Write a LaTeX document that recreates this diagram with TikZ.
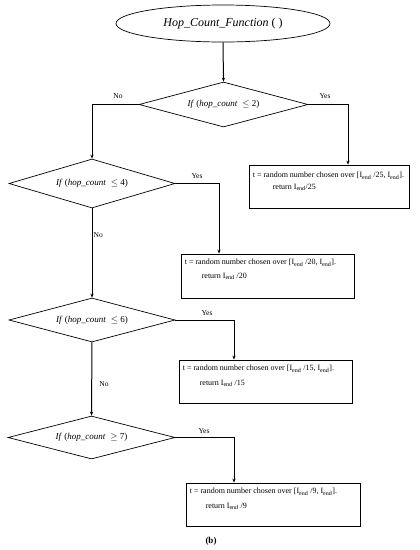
\documentclass[tikz,border=0pt]{standalone}
\usepackage{fontspec}
\setmainfont{Liberation Serif}
\usetikzlibrary{shapes.geometric,arrows.meta,calc}
\begin{document}
\begin{tikzpicture}[x=1pt,y=-1pt,
  startnode/.style={ellipse,draw,line width=0.7pt,minimum width=214pt,minimum height=37pt,inner sep=0pt,font=\fontsize{12}{14}\selectfont},
  decision/.style={diamond,draw,line width=0.7pt,inner sep=0pt,shape aspect=3.7,font=\fontsize{9}{11}\selectfont},
  actionbox/.style={rectangle,draw,line width=0.8pt,inner sep=0pt},
  boxtext/.style={anchor=west,inner sep=0pt,font=\fontsize{8}{10}\selectfont},
  lbl/.style={inner sep=0pt,font=\fontsize{7.5}{9}\selectfont},
  conn/.style={line width=1pt,-{Stealth[length=4pt,width=3.2pt]}}
]
\useasboundingbox (0,0) rectangle (420,550);
\node[startnode] (start) at (223,23.5) {\textit{Hop\_Count\_Function} ( )};
\node[decision,minimum width=169pt,minimum height=45pt] (d1) at (223.5,104.5) {\textit{If} (\textit{hop\_count}\; $\leq$ 2)};
\node[decision,minimum width=166pt,minimum height=49pt] (d2) at (92,183.5) {\textit{If} (\textit{hop\_count}\; $\leq$ 4)};
\node[decision,minimum width=166pt,minimum height=44pt] (d3) at (92,320) {\textit{If} (\textit{hop\_count}\; $\leq$ 6)};
\node[decision,minimum width=167pt,minimum height=43pt] (d4) at (91.5,437.5) {\textit{If} (\textit{hop\_count}\; $\geq$ 7)};

\node[actionbox,minimum width=160pt,minimum height=43pt] (b1) at (329,186.5) {};
\node[actionbox,minimum width=173pt,minimum height=44pt] (b2) at (267.5,276) {};
\node[actionbox,minimum width=173pt,minimum height=43pt] (b3) at (265.5,381.5) {};
\node[actionbox,minimum width=174pt,minimum height=43pt] (b4) at (273,504.5) {};

\node[boxtext] (t1a) at ($(b1.north west)+(4,11)$) {t = random number chosen over [I\textsubscript{end} /25, I\textsubscript{end}].};
\node[boxtext] (t1b) at ($(b1.north west)+(24,23)$) {return I\textsubscript{end}/25};
\node[boxtext] (t2a) at ($(b2.north west)+(4,9)$) {t = random number chosen over [I\textsubscript{end} /20, I\textsubscript{end}].};
\node[boxtext] (t2b) at ($(b2.north west)+(21,23)$) {return I\textsubscript{end} /20};
\node[boxtext] (t3a) at ($(b3.north west)+(4,9)$) {t = random number chosen over [I\textsubscript{end} /15, I\textsubscript{end}].};
\node[boxtext] (t3b) at ($(b3.north west)+(21,24)$) {return I\textsubscript{end} /15};
\node[boxtext] (t4a) at ($(b4.north west)+(4,9)$) {t = random number chosen over [I\textsubscript{end} /9, I\textsubscript{end}].};
\node[boxtext] (t4b) at ($(b4.north west)+(20,24)$) {return I\textsubscript{end} /9};

\draw[conn] (start.south) -- (d1.north);
\draw[conn] (d1.west) -| (d2.north);
\draw[conn] (d1.east) -| ([xshift=19pt]b1.north);
\draw[conn] (d2.east) -| ([xshift=-48.5pt]b2.north);
\draw[conn] (d2.south) -- (d3.north);
\draw[conn] (d3.east) -| ([xshift=-31.5pt]b3.north);
\draw[conn] (d3.south) -- (d4.north);
\draw[conn] (d4.east) -| ([xshift=-39pt]b4.north);

\node[lbl] (no1) at (118,96) {No};
\node[lbl] (yes1) at (325,96) {Yes};
\node[lbl] (yes2) at (197,176) {Yes};
\node[lbl,anchor=west] (no2) at (93.5,235) {No};
\node[lbl] (yes3) at (207,313) {Yes};
\node[lbl] (no3) at (104,384) {No};
\node[lbl] (yes4) at (204,431) {Yes};
\node[inner sep=0pt,font=\fontsize{9}{11}\selectfont\bfseries] (cap) at (211,541) {(b)};
\end{tikzpicture}
\end{document}
